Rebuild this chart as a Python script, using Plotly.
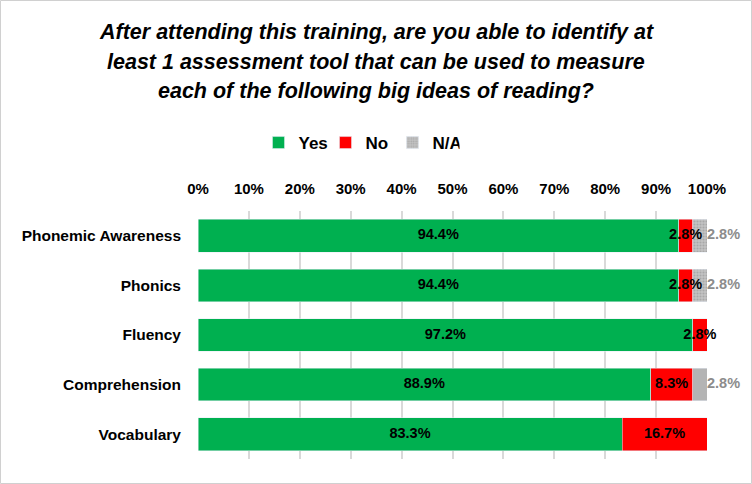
import plotly.graph_objects as go

categories = ["Phonemic Awareness", "Phonics", "Fluency", "Comprehension", "Vocabulary"]
yes_pct = [94.4, 94.4, 97.2, 88.9, 83.3]
no_pct = [2.8, 2.8, 2.8, 8.3, 16.7]
na_pct = [2.8, 2.8, 0.0, 2.8, 0.0]
tick_vals = [0, 10, 20, 30, 40, 50, 60, 70, 80, 90, 100]
tick_text = [f"{v}%" for v in tick_vals]
title_lines = ["After attending this training, are you able to identify at",
               "least 1 assessment tool that can be used to measure",
               "each of the following big ideas of reading?"]

W, H = 752, 484
L, R, T, B = 198, 45, 211, 25
FONT = "Liberation Sans"


def labels(vals):
    return [f"{v:.1f}%" if v > 0 else "" for v in vals]


fig = go.Figure()
fig.add_trace(go.Bar(y=categories, x=yes_pct, name="Yes", orientation="h",
                     marker=dict(color="#00B050")))
fig.add_trace(go.Bar(y=categories, x=no_pct, name="No", orientation="h",
                     marker=dict(color="#FF0000")))
fig.add_trace(go.Bar(y=categories, x=na_pct, name="N/A", orientation="h",
                     marker=dict(color="#B4B4B4",
                                 pattern=dict(shape=[".", ".", "", "", ""],
                                              fgcolor="#8C8C8C", bgcolor="#C4C4C4",
                                              size=3, solidity=0.4))))

# data labels on top of the bars
yes_mid = [y / 2 for y in yes_pct]
no_mid = [y + n / 2 for y, n in zip(yes_pct, no_pct)]
bar_end = [y + n + a for y, n, a in zip(yes_pct, no_pct, na_pct)]
lab_font = dict(color="black", size=14.5, family=FONT, weight="bold")
fig.add_trace(go.Scatter(y=categories, x=yes_mid, mode="text", text=labels(yes_pct),
                         textfont=lab_font, showlegend=False, hoverinfo="skip",
                         cliponaxis=False))
fig.add_trace(go.Scatter(y=categories, x=no_mid, mode="text", text=labels(no_pct),
                         textfont=lab_font, showlegend=False, hoverinfo="skip",
                         cliponaxis=False))
fig.add_trace(go.Scatter(y=categories, x=bar_end, mode="text", text=labels(na_pct),
                         textposition="middle right",
                         textfont=dict(color="#8C8C8C", size=14.5, family=FONT, weight="bold"),
                         showlegend=False, hoverinfo="skip", cliponaxis=False))

# title, one line per annotation to match the line spacing
for i, line in enumerate(title_lines):
    fig.add_annotation(text=f"<i>{line}</i>", xref="paper", yref="paper",
                       x=(W / 2 - L) / (W - L - R), y=1 + (T - 32 - 29.5 * i) / (H - T - B),
                       xanchor="center", yanchor="middle", showarrow=False,
                       font=dict(size=21.5, family=FONT, color="black", weight="bold"))

fig.update_layout(
    width=W, height=H,
    barmode="stack", bargap=0.34,
    margin=dict(l=L, r=R, t=T, b=B),
    paper_bgcolor="white", plot_bgcolor="white",
    font=dict(family=FONT, size=14, color="black"),
    legend=dict(orientation="h", x=(359 - L) / (W - L - R), xanchor="center",
                y=1.0 + 68 / 248, yanchor="middle",
                font=dict(size=17, family=FONT, weight="bold"),
                itemwidth=30, entrywidth=22, traceorder="normal"),
    xaxis=dict(side="top", range=[0, 100], tickvals=tick_vals, ticktext=tick_text,
               showgrid=True, gridcolor="#D9D9D9", gridwidth=2, zeroline=False,
               showline=False, tickfont=dict(size=15, family=FONT, weight="bold"),
               ticklabelstandoff=13, fixedrange=True, automargin=False),
    yaxis=dict(autorange="reversed", showgrid=False, showline=False,
               tickfont=dict(size=15.5, family=FONT, weight="bold"), ticklabelstandoff=16,
               fixedrange=True, automargin=False),
    shapes=[dict(type="rect", xref="paper", yref="paper",
                 x0=-(L - 0.5) / (W - L - R), x1=1 + (R - 0.5) / (W - L - R),
                 y0=-(B - 0.5) / (H - T - B), y1=1 + (T - 0.5) / (H - T - B),
                 line=dict(color="#D0D0D0", width=1), layer="below")],
)

fig.write_html("out.html", config={"displayModeBar": False},
               post_script="document.body.style.margin='0';")
